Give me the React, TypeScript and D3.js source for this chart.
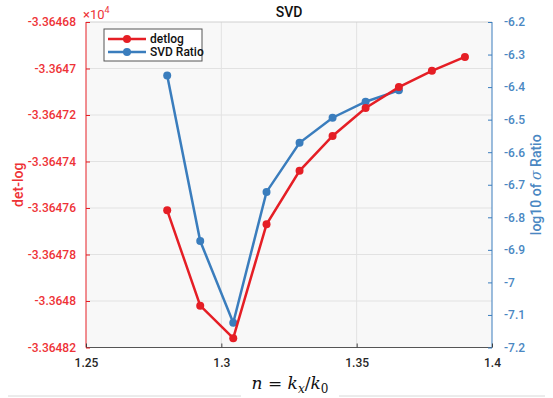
import React, { useEffect, useRef } from "react";
import * as d3 from "d3";

const width = 553,
  height = 398;
const margin = { top: 22, right: 61, bottom: 50.5, left: 86 };

// n = kx/k0 sample points
const xValues = [1.28, 1.2922, 1.3044, 1.3167, 1.3289, 1.3411, 1.3533, 1.3656, 1.3778, 1.39];
// det-log, in units of 1e4
const detlog = [
  -3.364761, -3.364802, -3.364816, -3.364767, -3.364744, -3.364729, -3.364717,
  -3.364708, -3.364701, -3.364695,
];
// log10 of sigma ratio
const svdRatio = [-6.364, -6.873, -7.124, -6.722, -6.571, -6.494, -6.445, -6.41];

const xTicks = [1.25, 1.3, 1.35, 1.4];
const leftTicks = [
  -3.36482, -3.3648, -3.36478, -3.36476, -3.36474, -3.36472, -3.3647, -3.36468,
];
const rightTicks = [-7.2, -7.1, -7, -6.9, -6.8, -6.7, -6.6, -6.5, -6.4, -6.3, -6.2];

const RED = "#e51e25";
const RED_TXT = "#ee3236";
const BLUE = "#3a7dbd";
const BLUE_TXT = "#4a87c2";
const FONT = "Roboto, sans-serif";

const fmt = (d: number) => String(+d.toFixed(6));

export default function App() {
  const xAxisRef = useRef<SVGGElement>(null);
  const yLeftRef = useRef<SVGGElement>(null);
  const yRightRef = useRef<SVGGElement>(null);

  const x0 = margin.left,
    x1 = width - margin.right,
    y0 = margin.top,
    y1 = height - margin.bottom;

  const xScale = d3.scaleLinear().domain([1.25, 1.4]).range([x0, x1]);
  const yLeft = d3.scaleLinear().domain([-3.36482, -3.36468]).range([y1, y0]);
  const yRight = d3.scaleLinear().domain([-7.2, -6.2]).range([y1, y0]);

  const detPts = xValues.map((x, i) => [x, detlog[i]] as [number, number]);
  const svdPts = svdRatio.map((v, i) => [xValues[i], v] as [number, number]);

  const detLine = d3
    .line<[number, number]>()
    .x((d) => xScale(d[0]))
    .y((d) => yLeft(d[1]));
  const svdLine = d3
    .line<[number, number]>()
    .x((d) => xScale(d[0]))
    .y((d) => yRight(d[1]));

  useEffect(() => {
    const style = (
      g: d3.Selection<SVGGElement, unknown, null, undefined>,
      color: string,
      txt: string,
    ) => {
      g.select(".domain").remove();
      g.selectAll("line").attr("stroke", color).attr("stroke-width", 1);
      g.selectAll("text")
        .attr("fill", txt)
        .style("font-family", FONT)
        .style("font-weight", "500")
        .style("font-size", "12px");
    };

    const gx = d3.select(xAxisRef.current!);
    gx.call(
      d3.axisBottom(xScale).tickValues(xTicks).tickSize(-4).tickPadding(11).tickFormat((d) => fmt(+d)),
    );
    style(gx, "#404040", "#262626");

    const gl = d3.select(yLeftRef.current!);
    gl.call(
      d3.axisLeft(yLeft).tickValues(leftTicks).tickSize(-4).tickPadding(10).tickFormat((d) => fmt(+d)),
    );
    style(gl, RED, RED_TXT);

    const gr = d3.select(yRightRef.current!);
    gr.call(
      d3.axisRight(yRight).tickValues(rightTicks).tickSize(-4).tickPadding(12).tickFormat((d) => fmt(+d)),
    );
    style(gr, BLUE, BLUE_TXT);
  }, []);

  return (
    <div style={{ position: "absolute", left: 0, top: 0 }}>
      <svg width={width} height={height} style={{ display: "block", background: "#fff" }}>
        {/* plot background */}
        <rect x={x0} y={y0} width={x1 - x0} height={y1 - y0} fill="#f8f8f8" />
        {/* grid */}
        {xTicks.slice(1, -1).map((t) => (
          <line key={"gx" + t} x1={xScale(t)} x2={xScale(t)} y1={y0} y2={y1} stroke="#e2e2e2" />
        ))}
        {leftTicks.slice(1, -1).map((t) => (
          <line key={"gy" + t} x1={x0} x2={x1} y1={yLeft(t)} y2={yLeft(t)} stroke="#e2e2e2" />
        ))}
        {/* box */}
        <line x1={x0} x2={x1} y1={y0} y2={y0} stroke="#d0d0d0" />
        <line x1={x0} x2={x1} y1={y1} y2={y1} stroke="#555" />
        <line x1={x0} x2={x0} y1={y0} y2={y1} stroke={RED} />
        <line x1={x1} x2={x1} y1={y0} y2={y1} stroke={BLUE} />

        <g ref={xAxisRef} transform={`translate(0,${y1})`} />
        <g ref={yLeftRef} transform={`translate(${x0},0)`} />
        <g ref={yRightRef} transform={`translate(${x1},0)`} />

        {/* series */}
        <path d={svdLine(svdPts) ?? ""} fill="none" stroke={BLUE} strokeWidth={2.5} />
        {svdPts.map((d, i) => (
          <circle key={"s" + i} cx={xScale(d[0])} cy={yRight(d[1])} r={4} fill={BLUE} />
        ))}
        <path d={detLine(detPts) ?? ""} fill="none" stroke={RED} strokeWidth={2.5} />
        {detPts.map((d, i) => (
          <circle key={"d" + i} cx={xScale(d[0])} cy={yLeft(d[1])} r={4} fill={RED} />
        ))}

        {/* exponent */}
        <text x={x0 - 3} y={19} fill={RED_TXT} fontFamily={FONT} fontSize={13}>
          ×10
          <tspan dy={-6} fontSize={9}>
            4
          </tspan>
        </text>

        {/* title */}
        <text
          x={(x0 + x1) / 2}
          y={17}
          textAnchor="middle"
          fontFamily={FONT}
          fontWeight={500}
          fontSize={14}
          fill="#111"
        >
          SVD
        </text>

        {/* axis labels */}
        <text
          transform={`translate(23,${(y0 + y1) / 2}) rotate(-90)`}
          textAnchor="middle"
          fontFamily={FONT}
          fontWeight={500}
          fontSize={14}
          fill={RED_TXT}
        >
          det-log
        </text>
        <text
          transform={`translate(541,${(y0 + y1) / 2}) rotate(-90)`}
          textAnchor="middle"
          fontFamily={FONT}
          fontWeight={500}
          fontSize={14}
          fill={BLUE_TXT}
        >
          log10 of <tspan fontFamily="DejaVu Serif, serif" fontStyle="italic" fontWeight={400}>σ</tspan> Ratio
        </text>

        <text x={290} y={389} textAnchor="middle" fontFamily="DejaVu Serif, serif" fontSize={17} fill="#111">
          <tspan fontStyle="italic">n</tspan> = <tspan fontStyle="italic">k</tspan>
          <tspan fontStyle="italic" fontSize={12} dy={4}>x</tspan>
          <tspan dy={-4}>/</tspan>
          <tspan fontStyle="italic">k</tspan>
          <tspan fontSize={12} dy={4}>0</tspan>
        </text>
        <line x1={8} x2={241} y1={396} y2={396} stroke="#d8d8d8" />
        <line x1={339} x2={545} y1={396} y2={396} stroke="#d8d8d8" />

        {/* legend */}
        <rect x={104} y={29} width={98} height={32} fill="#fff" stroke="#555" />
        <line x1={108} x2={146} y1={39} y2={39} stroke={RED} strokeWidth={2.5} />
        <circle cx={127} cy={39} r={4} fill={RED} />
        <text x={150} y={43} fontFamily={FONT} fontWeight={500} fontSize={12} fill="#111">
          detlog
        </text>
        <line x1={108} x2={146} y1={52} y2={52} stroke={BLUE} strokeWidth={2.5} />
        <circle cx={127} cy={52} r={4} fill={BLUE} />
        <text x={150} y={56} fontFamily={FONT} fontWeight={500} fontSize={12} fill="#111">
          SVD Ratio
        </text>
      </svg>
    </div>
  );
}
